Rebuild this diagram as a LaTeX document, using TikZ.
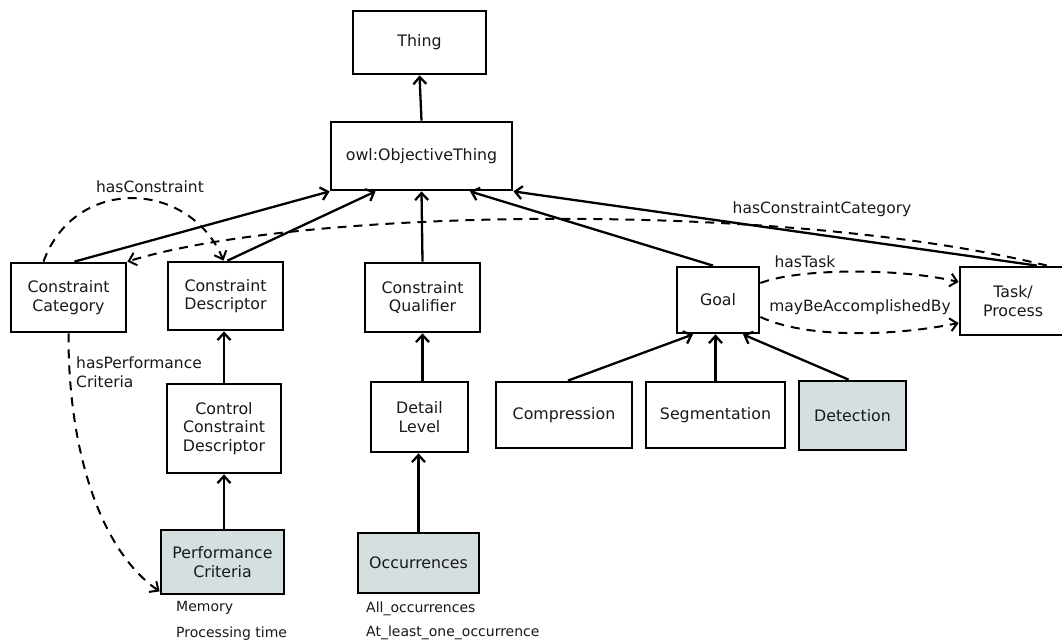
\documentclass[tikz,border=0pt]{standalone}
\usepackage{fontspec}
\setmainfont{DejaVu Sans}
\usetikzlibrary{arrows.meta}
\definecolor{shade}{RGB}{213,223,223}
\definecolor{ink}{RGB}{25,25,25}
\begin{document}
\begin{tikzpicture}[x=1pt,y=-1pt,
  box/.style={draw=black,line width=2.8pt,fill=white,text=ink,align=center,inner sep=0pt,
    font=\fontsize{15.8}{18.6}\selectfont},
  grey/.style={box,fill=shade},
  isa/.style={line width=2.3pt,-{Straight Barb[length=7pt,width=13pt,line width=2.3pt]}},
  rel/.style={line width=2pt,dash pattern=on 9pt off 7pt,-{Straight Barb[length=7pt,width=13pt,line width=2pt]}},
  lbl/.style={text=ink,font=\fontsize{15.5}{18.6}\selectfont,inner sep=0pt},
  sub/.style={text=ink,font=\fontsize{14}{18}\selectfont,inner sep=0pt,anchor=west}]
\clip (0,0) rectangle (1062,642);
\fill[white] (0,0) rectangle (1062,642);
% nodes
\node[box,minimum width=133pt,minimum height=63pt] (thing) at (419.5,42.5) {Thing};
\node[box,minimum width=181pt,minimum height=68pt] (ot) at (421.5,156) {owl:ObjectiveThing};
\node[box,minimum width=115pt,minimum height=69pt] (cc) at (68.5,297.5) {Constraint\\Category};
\node[box,minimum width=115pt,minimum height=68pt] (cd) at (225.5,296) {Constraint\\Descriptor};
\node[box,minimum width=115pt,minimum height=69pt] (cq) at (422.5,297.5) {Constraint\\Qualifier};
\node[box,minimum width=82pt,minimum height=66pt] (goal) at (718,300) {Goal};
\node[box,minimum width=106pt,minimum height=68pt] (task) at (1013,301) {Task/\\Process};
\node[box,minimum width=114pt,minimum height=89pt] (ccd) at (224,428.5) {Control\\Constraint\\Descriptor};
\node[box,minimum width=97pt,minimum height=70pt] (dl) at (419.5,417) {Detail\\Level};
\node[box,minimum width=136pt,minimum height=66pt] (comp) at (564,415) {Compression};
\node[box,minimum width=139pt,minimum height=66pt] (seg) at (715.5,415) {Segmentation};
\node[grey,minimum width=107pt,minimum height=69pt] (det) at (852.5,415.5) {Detection};
\node[grey,minimum width=123pt,minimum height=64pt] (pc) at (222.5,562) {Performance\\Criteria};
\node[grey,minimum width=121pt,minimum height=60pt] (occ) at (418.5,563) {Occurrences};
% texts below
\node[sub] (m1) at (176,608) {Memory};
\node[sub] (m2) at (176,634) {Processing time};
\node[sub] (o1) at (366,609) {All\_occurrences};
\node[sub] (o2) at (366,633) {At\_least\_one\_occurrence};
% is-a edges
\draw[isa] (ot.north) -- (thing.south);
\draw[isa] ([xshift=6pt]cc.north) -- (ot.south west);
\draw[isa] ([xshift=2pt]cd.north) -- ([xshift=-46pt]ot.south);
\draw[isa] (cq.north) -- (ot.south);
\draw[isa] ([xshift=-5pt]goal.north) -- ([xshift=48.5pt]ot.south);
\draw[isa] ([xshift=24pt]task.north) -- (ot.south east);
\draw[isa] (ccd.north) -- (cd.south -| ccd.north);
\draw[isa] (pc.north -| ccd.south) -- (ccd.south);
\draw[isa] (dl.north -| cq.south) -- (cq.south);
\draw[isa] (occ.north) -- (dl.south -| occ.north);
\draw[isa] ([xshift=4pt]comp.north) -- ([xshift=-25pt]goal.south);
\draw[isa] (seg.north) -- (goal.south -| seg.north);
\draw[isa] ([xshift=-4pt]det.north) -- ([xshift=25pt]goal.south);
% relations
\draw[rel] ([xshift=34pt]task.north) .. controls (780,200) and (300,208) .. (cc.north east);
\node[lbl] (l1) at (822,209) {hasConstraintCategory};
\draw[rel] ([xshift=-25pt]cc.north) .. controls (75,175) and (190,180) .. ([xshift=-2pt]cd.north);
\node[lbl] (l2) at (150,187) {hasConstraint};
\draw[rel] ([yshift=17pt]goal.east) .. controls (800,268) and (900,268) .. ([yshift=19pt]task.west);
\node[lbl] (l3) at (805,262) {hasTask};
\draw[rel] ([yshift=-17pt]goal.east) .. controls (810,340) and (900,335) .. ([yshift=-22pt]task.west);
\node[lbl] (l4) at (860,307) {mayBeAccomplishedBy};
\draw[rel] (cc.south) .. controls (68,450) and (100,550) .. ([yshift=4pt]pc.south west);
\node[lbl,align=left,anchor=west] (l5) at (76,372) {hasPerformance\\Criteria};
\end{tikzpicture}
\end{document}
